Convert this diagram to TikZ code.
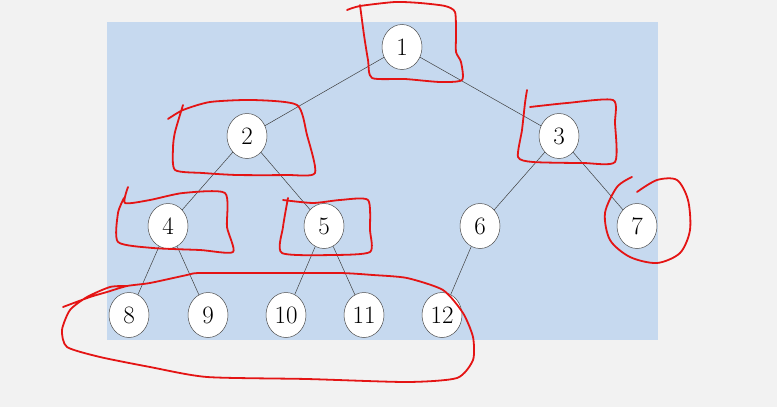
\documentclass[tikz,border=0pt]{standalone}
\usepackage{tikz}
\usetikzlibrary{shapes.geometric}
\definecolor{pagegray}{RGB}{242,242,242}
\definecolor{panelblue}{RGB}{198,217,239}
\definecolor{penred}{RGB}{228,20,20}

\begin{document}
\begin{tikzpicture}[x=1pt, y=-1pt,
		treenode/.style={ellipse, draw=black!70, line width=0.5pt, fill=white,
			minimum width=40pt, minimum height=45pt, inner sep=0pt,
			font=\fontsize{25}{27}\selectfont},
		treeedge/.style={draw=black!75, line width=0.5pt},
		redloop/.style={draw=penred, line width=1.8pt, line cap=round, line join=round}]
			%%%%% START %%%%%
			
			\fill[pagegray] (0, 0) rectangle (777, 407);
			\useasboundingbox (0, 0) rectangle (777, 407);
			\fill[panelblue] (107, 22) rectangle (658, 340);
			
			% nodes
			\node[treenode] (n1) at (402, 47) {1};
			
			\node[treenode] (n2) at (247, 136) {2};
			\node[treenode] (n3) at (559, 136) {3};
			
			\node[treenode] (n4) at (168, 226) {4};
			\node[treenode] (n5) at (324, 226) {5};
			\node[treenode] (n6) at (480, 226) {6};
			\node[treenode] (n7) at (637, 226) {7};
			
			\node[treenode] (n8) at (129, 315) {8};
			\node[treenode] (n9) at (208, 315) {9};
			\node[treenode] (n10) at (286, 315) {10};
			\node[treenode] (n11) at (364, 315) {11};
			\node[treenode] (n12) at (442, 315) {12};
			
			% edges
			\foreach \a/\b in {n1/n2, n1/n3, n2/n4, n2/n5, n3/n6, n3/n7, n4/n8, n4/n9, n5/n10, n5/n11, n6/n12}
				\draw[treeedge] (\a) -- (\b);
			
			% red loops
			\draw[redloop] plot[smooth, tension=0.4] coordinates {(347, 10) (360, 6) (395, 2) (420, 3) (445, 6) (455, 12) (456, 35) (456, 52) (461, 62) (462, 80) (440, 82) (405, 79) (372, 78) (368, 60) (364, 35) (360, 5)};
			\draw[redloop] plot[smooth, tension=0.4] coordinates {(168, 119) (183, 110) (210, 102) (253, 100) (297, 105) (307, 135) (315, 173) (287, 175) (237, 175) (203, 173) (175, 170) (173, 148) (175, 132) (183, 105)};
			\draw[redloop] plot[smooth, tension=0.4] coordinates {(530, 107) (567, 103) (613, 100) (615, 123) (615, 162) (583, 163) (533, 162) (518, 157) (522, 130) (525, 103) (527, 90)};
			\draw[redloop] plot[smooth, tension=0.4] coordinates {(128, 187) (125, 203) (150, 200) (183, 193) (225, 193) (227, 227) (233, 252) (200, 250) (153, 248) (118, 242) (118, 213) (124, 198)};
			\draw[redloop] plot[smooth, tension=0.4] coordinates {(283, 200) (313, 203) (340, 200) (368, 200) (370, 230) (370, 252) (333, 255) (282, 253) (283, 227) (288, 198)};
			\draw[redloop] plot[smooth, tension=0.5] coordinates {(637, 192) (657, 180) (677, 180) (688, 200) (690, 230) (680, 253) (657, 263) (630, 257) (610, 240) (605, 213) (617, 187) (632, 177)};
			\draw[redloop] plot[smooth, tension=0.4] coordinates {(63, 307) (90, 297) (107, 292) (127, 286) (150, 283) (187, 275) (200, 273) (273, 273) (340, 273) (373, 275) (407, 278) (443, 290) (463, 313) (473, 337) (473, 360) (457, 378) (407, 382) (307, 379) (207, 377) (150, 367) (100, 357) (67, 347) (62, 330) (70, 310) (87, 297) (110, 287) (127, 286)};
			
			%%%%% END %%%%%
		\end{tikzpicture}
\end{document}
